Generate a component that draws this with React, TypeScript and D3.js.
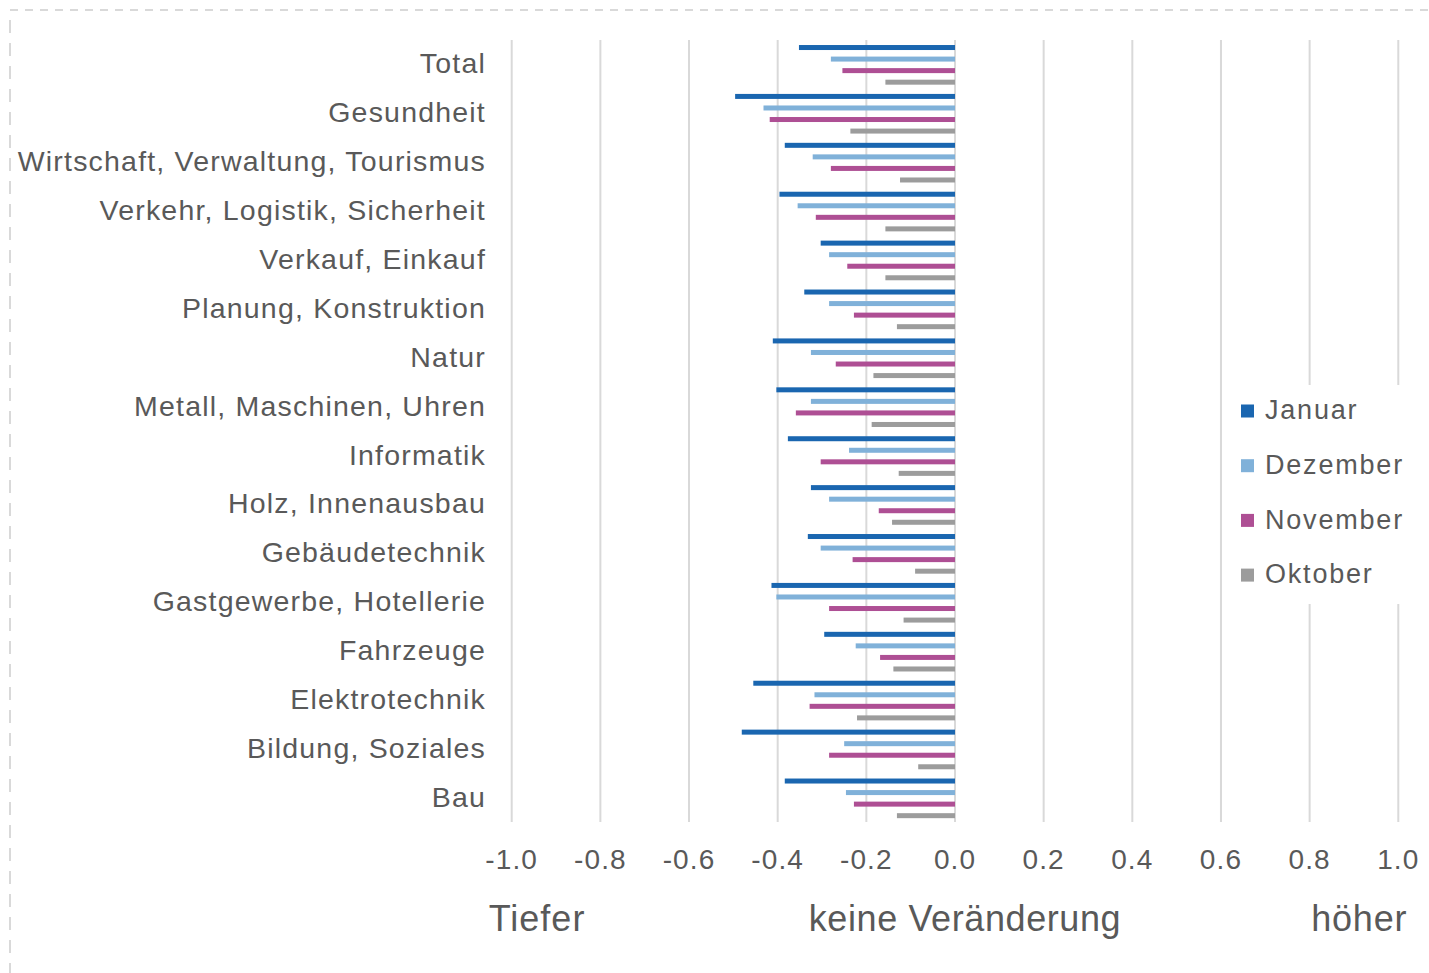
import React from "react";
import * as d3 from "d3";

const categories = [
  "Total",
  "Gesundheit",
  "Wirtschaft, Verwaltung, Tourismus",
  "Verkehr, Logistik, Sicherheit",
  "Verkauf, Einkauf",
  "Planung, Konstruktion",
  "Natur",
  "Metall, Maschinen, Uhren",
  "Informatik",
  "Holz, Innenausbau",
  "Gebäudetechnik",
  "Gastgewerbe, Hotellerie",
  "Fahrzeuge",
  "Elektrotechnik",
  "Bildung, Soziales",
  "Bau",
];

const seriesNames = ["Januar", "Dezember", "November", "Oktober"];
const seriesColors = ["#1a66b0", "#80b1d9", "#ae4f94", "#9c9c9c"];

const januar = [-0.352, -0.496, -0.384, -0.396, -0.303, -0.34, -0.411, -0.403, -0.377, -0.325, -0.332, -0.414, -0.295, -0.455, -0.481, -0.384];
const dezember = [-0.28, -0.432, -0.321, -0.355, -0.284, -0.284, -0.325, -0.325, -0.239, -0.284, -0.303, -0.403, -0.224, -0.317, -0.25, -0.246];
const november = [-0.254, -0.418, -0.28, -0.314, -0.243, -0.228, -0.269, -0.359, -0.303, -0.172, -0.231, -0.284, -0.169, -0.328, -0.284, -0.228];
const oktober = [-0.157, -0.236, -0.124, -0.157, -0.157, -0.131, -0.184, -0.188, -0.127, -0.142, -0.09, -0.116, -0.139, -0.221, -0.083, -0.131];

const seriesValues = [januar, dezember, november, oktober];

const tickValues = [-1.0, -0.8, -0.6, -0.4, -0.2, 0.0, 0.2, 0.4, 0.6, 0.8, 1.0];
const axisTitles = ["Tiefer", "keine Veränderung", "höher"];

const W = 1429;
const H = 973;
const FONT = "'Liberation Sans', Arial, sans-serif";
const TEXT = "#595959";

export default function App() {
  const x = d3.scaleLinear().domain([-1, 1]).range([511.7, 1398.3]);
  const y = d3.scaleBand<string>().domain(categories).range([40.4, 822.8]).padding(0);
  const sub = d3
    .scaleBand<string>()
    .domain(seriesNames)
    .range([-23.1, 23.1])
    .padding(0);
  const barH = 5;

  const legendX = 1241;
  const legendY0 = 411;
  const legendStep = 54.7;
  const fmt = (t: number) => t.toFixed(1);

  return (
    <svg
      width={W}
      height={H}
      style={{ position: "absolute", left: 0, top: 0, background: "#fff" }}
      fontFamily={FONT}
    >
      <rect x={0} y={0} width={W} height={H} fill="#fff" />
      {/* dashed frame */}
      <line x1={10} y1={10} x2={W} y2={10} stroke="#d9d9d9" strokeWidth={2} strokeDasharray="8,7" />
      <line x1={10} y1={20} x2={10} y2={H} stroke="#d9d9d9" strokeWidth={2} strokeDasharray="13,10" />

      {/* gridlines */}
      {tickValues.map((t) => (
        <line
          key={"g" + t}
          x1={x(t)}
          x2={x(t)}
          y1={40}
          y2={822}
          stroke="#d9d9d9"
          strokeWidth={2}
        />
      ))}

      {/* bars */}
      {categories.map((c, i) => {
        const cy = (y(c) as number) + y.bandwidth() / 2;
        return seriesNames.map((s, j) => {
          const v = seriesValues[j][i];
          const by = cy + (sub(s) as number) + sub.bandwidth() / 2 - barH / 2;
          return (
            <rect
              key={c + s}
              x={Math.min(x(v), x(0))}
              y={by}
              width={Math.abs(x(v) - x(0))}
              height={barH}
              fill={seriesColors[j]}
            />
          );
        });
      })}

      {/* category labels */}
      {categories.map((c) => (
        <text
          key={"l" + c}
          x={486}
          y={(y(c) as number) + y.bandwidth() / 2 + 1}
          textAnchor="end"
          dominantBaseline="middle"
          fontSize={28.5}
          letterSpacing={1.2}
          fill={TEXT}
        >
          {c}
        </text>
      ))}

      {/* tick labels */}
      {tickValues.map((t) => (
        <text
          key={"t" + t}
          x={x(t)}
          y={869}
          textAnchor="middle"
          fontSize={28}
          letterSpacing={1.1}
          fill={TEXT}
        >
          {fmt(t)}
        </text>
      ))}

      {/* axis titles */}
      <text x={x(-1) - 23} y={931} textAnchor="start" fontSize={36} letterSpacing={1} fill={TEXT}>
        {axisTitles[0]}
      </text>
      <text x={x(0) + 10} y={931} textAnchor="middle" fontSize={36} letterSpacing={0.6} fill={TEXT}>
        {axisTitles[1]}
      </text>
      <text x={x(1) + 9} y={931} textAnchor="end" fontSize={36} letterSpacing={0.8} fill={TEXT}>
        {axisTitles[2]}
      </text>

      {/* legend */}
      <rect x={1228} y={385} width={188} height={219} fill="#fff" />
      {seriesNames.map((s, j) => (
        <g key={"lg" + s} transform={`translate(${legendX},${legendY0 + j * legendStep})`}>
          <rect x={0} y={-6.5} width={13} height={13} fill={seriesColors[j]} />
          <text x={24} y={1} dominantBaseline="middle" fontSize={27} letterSpacing={1.8} fill={TEXT}>
            {s}
          </text>
        </g>
      ))}
    </svg>
  );
}
